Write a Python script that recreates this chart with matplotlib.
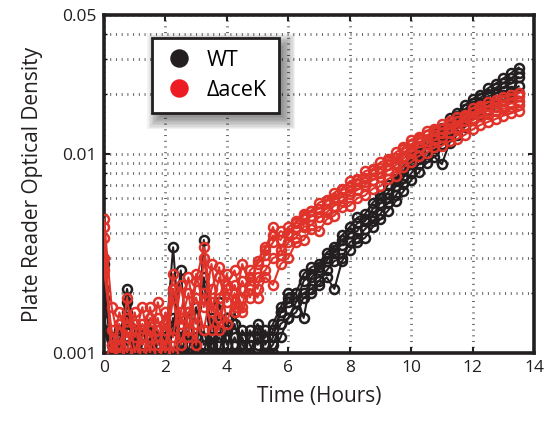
import numpy as np
import matplotlib
matplotlib.use("Agg")
import matplotlib.pyplot as plt
from matplotlib.lines import Line2D
from matplotlib.patches import Rectangle
from matplotlib.transforms import IdentityTransform

plt.rcParams['font.family'] = ['Open Sans', 'DejaVu Sans']

# Time points (hours)
hours = np.arange(0, 13.51, 0.25)

wt_rep1 = [0.0028, 0.0009, 0.0011, 0.0021, 0.0013, 0.0009, 0.0012, 0.0008, 0.0011, 0.0034,
           0.0010, 0.0013, 0.0009, 0.0037, 0.0011, 0.0014, 0.0009, 0.0012, 0.0010, 0.0013,
           0.0011, 0.0012,
           0.0014, 0.0017, 0.0020, 0.0020, 0.0025, 0.0027, 0.0028, 0.0032, 0.0034, 0.0039,
           0.0043, 0.0048, 0.0050, 0.0057, 0.0062, 0.0070, 0.0075, 0.0087, 0.0097, 0.0109,
           0.0116, 0.0128, 0.0135, 0.0152, 0.0161, 0.0176, 0.0189, 0.0199, 0.0214, 0.0226,
           0.0240, 0.0255, 0.0272]
wt_rep2 = [0.0016, 0.0008, 0.0010, 0.0018, 0.0011, 0.0010, 0.0009, 0.0012, 0.0009, 0.0013,
           0.0026, 0.0009, 0.0012, 0.0010, 0.0015, 0.0009, 0.0013, 0.0010, 0.0012, 0.0009,
           0.0012, 0.0010,
           0.0011, 0.0014, 0.0015, 0.0018, 0.0020, 0.0021, 0.0023, 0.0026, 0.0029, 0.0030,
           0.0036, 0.0038, 0.0042, 0.0046, 0.0050, 0.0057, 0.0062, 0.0071, 0.0080, 0.0089,
           0.0097, 0.0104, 0.0112, 0.0123, 0.0135, 0.0147, 0.0159, 0.0168, 0.0178, 0.0186,
           0.0198, 0.0207, 0.0219]
wt_rep3 = [0.0021, 0.0012, 0.0009, 0.0016, 0.0010, 0.0013, 0.0010, 0.0011, 0.0014, 0.0010,
           0.0012, 0.0016, 0.0010, 0.0013, 0.0009, 0.0018, 0.0011, 0.0014, 0.0010, 0.0012,
           0.0014, 0.0011,
           0.0013, 0.0016, 0.0018, 0.0020, 0.0015, 0.0024, 0.0026, 0.0029, 0.0033, 0.0035,
           0.0040, 0.0041, 0.0047, 0.0049, 0.0057, 0.0060, 0.0069, 0.0076, 0.0090, 0.0094,
           0.0107, 0.0111, 0.0124, 0.0131, 0.0148, 0.0158, 0.0175, 0.0181, 0.0195, 0.0201,
           0.0217, 0.0226, 0.0243]
wt_rep4 = [0.0013, 0.0010, 0.0013, 0.0011, 0.0009, 0.0011, 0.0014, 0.0010, 0.0012, 0.0021,
           0.0011, 0.0010, 0.0017, 0.0011, 0.0012, 0.0010, 0.0015, 0.0009, 0.0013, 0.0011,
           0.0009, 0.0013,
           0.0010, 0.0012, 0.0015, 0.0016, 0.0019, 0.0020, 0.0022, 0.0024, 0.0021, 0.0029,
           0.0033, 0.0036, 0.0038, 0.0043, 0.0047, 0.0052, 0.0058, 0.0065, 0.0074, 0.0081,
           0.0090, 0.0097, 0.0089, 0.0114, 0.0125, 0.0137, 0.0150, 0.0158, 0.0166, 0.0175,
           0.0184, 0.0193, 0.0203]
wt_rep5 = [0.0019, 0.0011, 0.0008, 0.0014, 0.0012, 0.0008, 0.0011, 0.0013, 0.0010, 0.0015,
           0.0009, 0.0012, 0.0011, 0.0024, 0.0010, 0.0012, 0.0010, 0.0016, 0.0011, 0.0010,
           0.0013, 0.0010,
           0.0012, 0.0016, 0.0019, 0.0018, 0.0023, 0.0025, 0.0027, 0.0030, 0.0032, 0.0037,
           0.0040, 0.0045, 0.0046, 0.0053, 0.0060, 0.0064, 0.0073, 0.0082, 0.0092, 0.0101,
           0.0112, 0.0117, 0.0131, 0.0141, 0.0155, 0.0168, 0.0180, 0.0192, 0.0201, 0.0215,
           0.0227, 0.0240, 0.0256]

acek_rep1 = [0.0047, 0.0017, 0.0011, 0.0015, 0.0012, 0.0017, 0.0010, 0.0018, 0.0013, 0.0025,
             0.0014, 0.0020, 0.0011, 0.0030, 0.0016, 0.0024, 0.0018, 0.0022, 0.0017, 0.0026,
             0.0028, 0.0031, 0.0036, 0.0041, 0.0039, 0.0046, 0.0050, 0.0052, 0.0057, 0.0059,
             0.0064, 0.0067, 0.0073, 0.0075, 0.0082, 0.0084, 0.0091, 0.0094, 0.0102, 0.0108,
             0.0118, 0.0122, 0.0131, 0.0134, 0.0141, 0.0146, 0.0153, 0.0157, 0.0170, 0.0174,
             0.0183, 0.0186, 0.0194, 0.0197, 0.0203]
acek_rep2 = [0.0038, 0.0009, 0.0014, 0.0010, 0.0016, 0.0011, 0.0013, 0.0009, 0.0016, 0.0012,
             0.0022, 0.0013, 0.0025, 0.0017, 0.0028, 0.0015, 0.0021, 0.0016, 0.0023, 0.0019,
             0.0024, 0.0026, 0.0030, 0.0031, 0.0036, 0.0038, 0.0043, 0.0044, 0.0048, 0.0051,
             0.0055, 0.0058, 0.0063, 0.0066, 0.0070, 0.0074, 0.0077, 0.0083, 0.0088, 0.0095,
             0.0102, 0.0108, 0.0112, 0.0118, 0.0122, 0.0128, 0.0133, 0.0140, 0.0148, 0.0155,
             0.0159, 0.0165, 0.0169, 0.0172, 0.0177]
acek_rep3 = [0.0030, 0.0011, 0.0009, 0.0019, 0.0010, 0.0014, 0.0012, 0.0015, 0.0010, 0.0019,
             0.0011, 0.0016, 0.0019, 0.0013, 0.0021, 0.0027, 0.0014, 0.0020, 0.0016, 0.0021,
             0.0019, 0.0024, 0.0022, 0.0028, 0.0030, 0.0036, 0.0037, 0.0042, 0.0041, 0.0047,
             0.0049, 0.0054, 0.0055, 0.0060, 0.0062, 0.0067, 0.0069, 0.0075, 0.0078, 0.0086,
             0.0091, 0.0098, 0.0101, 0.0108, 0.0110, 0.0116, 0.0119, 0.0125, 0.0133, 0.0140,
             0.0145, 0.0150, 0.0156, 0.0160, 0.0165]
acek_rep4 = [0.0026, 0.0013, 0.0010, 0.0013, 0.0009, 0.0012, 0.0017, 0.0011, 0.0014, 0.0010,
             0.0016, 0.0024, 0.0014, 0.0020, 0.0013, 0.0019, 0.0025, 0.0017, 0.0028, 0.0022,
             0.0029, 0.0034, 0.0039, 0.0037, 0.0043, 0.0045, 0.0049, 0.0052, 0.0053, 0.0058,
             0.0060, 0.0066, 0.0068, 0.0074, 0.0076, 0.0083, 0.0085, 0.0092, 0.0096, 0.0106,
             0.0112, 0.0119, 0.0124, 0.0130, 0.0134, 0.0141, 0.0146, 0.0153, 0.0162, 0.0170,
             0.0175, 0.0181, 0.0186, 0.0191, 0.0195]
acek_rep5 = [0.0043, 0.0010, 0.0016, 0.0012, 0.0014, 0.0009, 0.0015, 0.0013, 0.0011, 0.0021,
             0.0015, 0.0012, 0.0023, 0.0034, 0.0018, 0.0013, 0.0022, 0.0026, 0.0019, 0.0024,
             0.0021, 0.0033, 0.0043, 0.0033, 0.0040, 0.0043, 0.0044, 0.0049, 0.0051, 0.0053,
             0.0059, 0.0061, 0.0065, 0.0071, 0.0072, 0.0079, 0.0080, 0.0088, 0.0090, 0.0098,
             0.0105, 0.0115, 0.0116, 0.0125, 0.0127, 0.0135, 0.0137, 0.0146, 0.0152, 0.0160,
             0.0165, 0.0172, 0.0174, 0.0180, 0.0184]

wt_series = [wt_rep1, wt_rep2, wt_rep3, wt_rep4, wt_rep5]
acek_series = [acek_rep1, acek_rep2, acek_rep3, acek_rep4, acek_rep5]

x_ticks = [0, 2, 4, 6, 8, 10, 12, 14]
y_ticks = [0.001, 0.01, 0.05]
y_tick_labels = ['0.001', '0.01', '0.05']
y_minor = [0.002, 0.003, 0.004, 0.005, 0.006, 0.007, 0.008, 0.009, 0.02, 0.03, 0.04]
legend_labels = ['WT', '\u0394aceK']

BLACK = '#231f20'
RED_LINE = '#e0332a'
RED_LEG = '#ed1c24'
GRID = '#5e5e5e'

W, H = 548, 423
fig = plt.figure(figsize=(W / 100, H / 100), dpi=100)
ax = fig.add_axes([104 / W, 1 - 353 / H, 430 / W, 338 / H])

for ys in wt_series:
    ax.plot(hours, ys, color=BLACK, lw=1.5, marker='o', ms=6.5, mfc='none',
            mec=BLACK, mew=1.8, zorder=2)
for ys in acek_series:
    ax.plot(hours, ys, color=RED_LINE, lw=1.5, marker='o', ms=6.5, mfc='none',
            mec=RED_LINE, mew=1.8, zorder=3)

ax.set_yscale('log')
ax.set_xlim(0, 14)
ax.set_ylim(0.001, 0.05)
ax.set_xticks(x_ticks)
ax.set_xticklabels([str(v) for v in x_ticks])
ax.set_yticks(y_ticks)
ax.set_yticklabels(y_tick_labels)
ax.set_yticks(y_minor, minor=True)
ax.yaxis.set_minor_formatter(matplotlib.ticker.NullFormatter())
ax.xaxis.set_minor_locator(matplotlib.ticker.NullLocator())

# dotted grid drawn as short perpendicular marks
grid_kw = dict(ls=(0, (0.36, 1.7)), color=GRID, lw=2.0, dash_capstyle='butt')
ax.grid(True, which='major', axis='x', **grid_kw)
ax.grid(True, which='both', axis='y', **grid_kw)
ax.set_axisbelow(True)

ax.tick_params(which='major', direction='in', length=4, width=1.5, top=True, right=True,
               labelsize=12.5, colors=BLACK, pad=5)
ax.tick_params(which='minor', direction='in', length=2, width=1.0, top=True, right=True)
for s in ax.spines.values():
    s.set_linewidth(2.6)
    s.set_color(BLACK)

ax.set_xlabel('Time (Hours)', fontsize=15, color=BLACK, labelpad=7)
ax.set_ylabel('Plate Reader Optical Density', fontsize=15, color=BLACK, labelpad=7)

handles = [Line2D([], [], ls='none', marker='o', ms=12.3, color=BLACK, mec=BLACK),
           Line2D([], [], ls='none', marker='o', ms=12.3, color=RED_LEG, mec=RED_LEG)]
leg = ax.legend(handles, legend_labels, loc='upper left',
                bbox_to_anchor=(48 / 430, 1 - 23 / 338), fontsize=15.5,
                frameon=True, fancybox=False, edgecolor=BLACK, framealpha=1,
                borderpad=0.55, labelspacing=0.42, handletextpad=0.55, handlelength=1.45,
                borderaxespad=0)
leg.get_frame().set_linewidth(2.0)
leg.set_zorder(10)

fig.canvas.draw()
bb = leg.get_window_extent()
for k in range(10):
    grow = -2 + k * 1.4
    r = Rectangle((bb.x0 + 6 - grow, bb.y0 - 6 - grow), bb.width + 2 * grow,
                  bb.height + 2 * grow, transform=IdentityTransform(),
                  facecolor='black', edgecolor='none', alpha=0.05, zorder=9)
    ax.add_artist(r)

fig.savefig('out.png', dpi=100)
